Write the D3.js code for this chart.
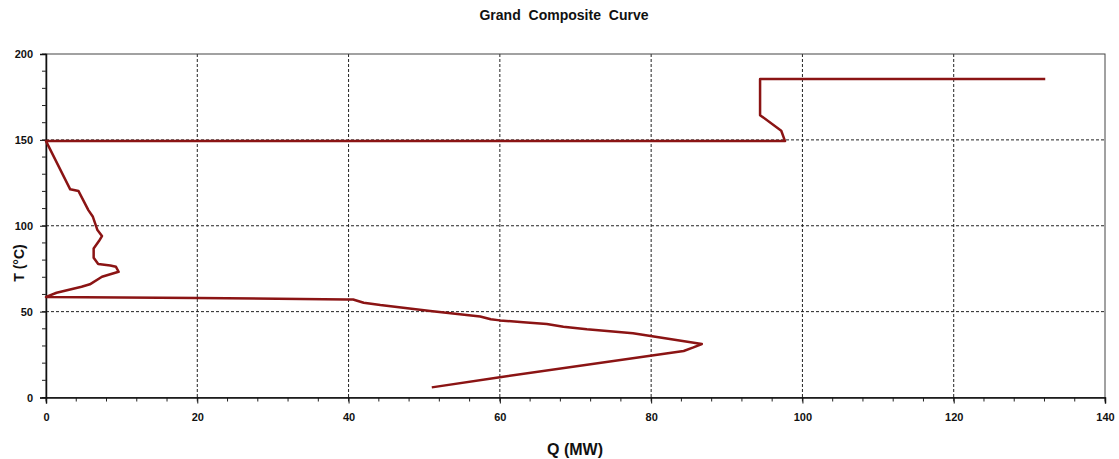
<!DOCTYPE html>
<html>
<head>
<meta charset="utf-8">
<script src="https://cdn.jsdelivr.net/npm/d3@7"></script>
<style>
  body { margin: 0; background: #fff; }
  text { font-family: "Liberation Sans", Arial, sans-serif; }
</style>
</head>
<body>
<div id="chart"></div>
<script>
// curve points (Q in MW, T in degC)
const qValues = [132.1, 94.4, 94.4, 97.2, 97.7, 0, 3.2, 4.3, 5.6, 6.2, 6.8, 7.4, 7.0, 6.3, 6.3, 6.9, 8.5, 9.25, 9.6, 7.4, 5.8, 4.7, 1.4, 0.1, 0, 20, 39.8, 40.6, 42, 44.2, 50.8, 57.4, 58.8, 60, 63.1, 66.2, 68.4, 71.5, 77.6, 86.7, 85.5, 84.3, 60, 51.0]
const tValues = [185.4, 185.4, 164.4, 155.3, 149.3, 149.3, 121.2, 120.2, 109.1, 105.2, 97.5, 94, 91.1, 86.8, 81.4, 77.7, 76.9, 76.1, 73.2, 70.3, 65.9, 64.5, 61, 58.7, 58.5, 57.9, 57.1, 57.1, 55.2, 53.8, 50.3, 47.2, 45.6, 44.9, 43.8, 42.8, 41.2, 39.7, 37.4, 31.1, 29.0, 27.1, 11.8, 5.9]

const xTicks = [0, 20, 40, 60, 80, 100, 120, 140]
const yTicks = [0, 50, 100, 150, 200]

const title = "Grand Composite Curve"
const xLabel = "Q (MW)"
const yLabel = "T (°C)"

const width = 1119
const height = 459
const margin = { left: 46, top: 54, right: 14, bottom: 61.5 }
const innerW = width - margin.left - margin.right
const innerH = height - margin.top - margin.bottom

const xScale = d3.scaleLinear().domain([0, 140]).range([0, innerW])
const yScale = d3.scaleLinear().domain([0, 200]).range([innerH, 0])

const svg = d3.select('#chart').append('svg').attr('width', width).attr('height', height)
const g = svg.append('g').attr('transform', 'translate(' + margin.left + ',' + margin.top + ')')

// dashed grid at the major ticks
g.selectAll('.vgrid').data(xTicks.slice(1, -1)).enter().append('line')
  .attr('x1', function(d) { return xScale(d) }).attr('x2', function(d) { return xScale(d) })
  .attr('y1', 0).attr('y2', innerH)
  .attr('stroke', '#222').attr('stroke-width', 1).attr('stroke-dasharray', '3,2')
g.selectAll('.hgrid').data(yTicks.slice(1, -1)).enter().append('line')
  .attr('y1', function(d) { return yScale(d) }).attr('y2', function(d) { return yScale(d) })
  .attr('x1', 0).attr('x2', innerW)
  .attr('stroke', '#222').attr('stroke-width', 1).attr('stroke-dasharray', '3,2')

// minor ticks
const xMinor = d3.range(0, 140.1, 4)
const yMinor = d3.range(0, 200.1, 10)
g.selectAll('.xminor').data(xMinor).enter().append('line')
  .attr('x1', function(d) { return xScale(d) }).attr('x2', function(d) { return xScale(d) })
  .attr('y1', innerH).attr('y2', innerH + 4).attr('stroke', '#222')
g.selectAll('.yminor').data(yMinor).enter().append('line')
  .attr('y1', function(d) { return yScale(d) }).attr('y2', function(d) { return yScale(d) })
  .attr('x1', -4).attr('x2', 0).attr('stroke', '#222')

// frame
g.append('rect').attr('x', 0).attr('y', 0).attr('width', innerW).attr('height', innerH)
  .attr('fill', 'none').attr('stroke', '#444').attr('stroke-width', 1)

const xAxis = d3.axisBottom(xScale).tickValues(xTicks).tickSize(6).tickPadding(10)
const yAxis = d3.axisLeft(yScale).tickValues(yTicks).tickSize(6).tickPadding(7)

const gx = g.append('g').attr('transform', 'translate(0,' + innerH + ')').call(xAxis)
const gy = g.append('g').call(yAxis)
;[gx, gy].forEach(function(a) {
  a.select('.domain').attr('stroke', '#111').attr('stroke-width', 1.5)
  a.selectAll('.tick line').attr('stroke', '#111')
  a.selectAll('.tick text').attr('font-family', '"Liberation Sans", Arial, sans-serif')
    .attr('font-size', '11px').attr('font-weight', 'bold').attr('fill', '#111')
})

// the curve
const pts = qValues.map(function(q, i) { return [q, tValues[i]] })
const line = d3.line()
  .x(function(d) { return xScale(d[0]) })
  .y(function(d) { return yScale(d[1]) })
g.append('path').datum(pts).attr('d', line)
  .attr('fill', 'none').attr('stroke', '#8b1414').attr('stroke-width', 2.5)
  .attr('stroke-linejoin', 'round')

svg.append('text').attr('x', 564).attr('y', 20).attr('text-anchor', 'middle')
  .attr('font-size', '14px').attr('font-weight', 'bold').attr('fill', '#111')
  .attr('word-spacing', '4px').text(title)
svg.append('text').attr('x', 575).attr('y', 455).attr('text-anchor', 'middle')
  .attr('font-size', '16px').attr('font-weight', 'bold').attr('fill', '#111').text(xLabel)
svg.append('text').attr('transform', 'translate(24,263) rotate(-90)').attr('text-anchor', 'middle')
  .attr('font-size', '14px').attr('font-weight', 'bold').attr('fill', '#111').text(yLabel)
</script>
</body>
</html>
